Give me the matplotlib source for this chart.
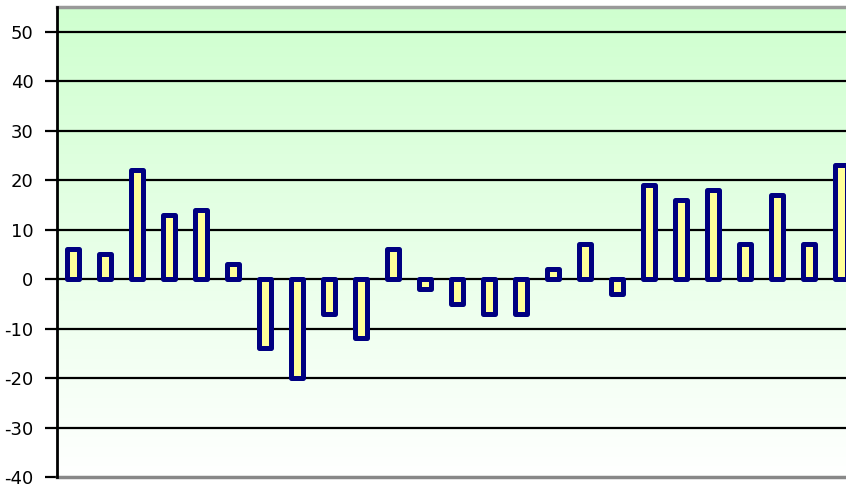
# MODULE IMPORTS
import numpy as np
import matplotlib
matplotlib.use("Agg")
import matplotlib.pyplot as plt
from matplotlib.colors import LinearSegmentedColormap

########
# DATA #
########
categories = list(range(1, 26))
values = [6, 5, 22, 13, 14, 3, -14, -20, -7, -12, 6, -2, -5, -7, -7,
          2, 7, -3, 19, 16, 18, 7, 17, 7, 23]
y_ticks = [-40, -30, -20, -10, 0, 10, 20, 30, 40, 50]

##########
# FIGURE #
##########
fig = plt.figure(figsize=(8.46, 4.91), dpi=100)
# axes runs a little past the right edge of the picture, like the original
ax = fig.add_axes([57 / 846, 14 / 491, 800 / 846, 470 / 491])

# GREEN TO WHITE GRADIENT BACKGROUND
grad = np.linspace(0, 1, 256).reshape(-1, 1)
cmap = LinearSegmentedColormap.from_list("bg", ["#ffffff", "#cfffcf"])
ax.imshow(grad, extent=[0, 1, 0, 1], transform=ax.transAxes, origin="lower",
          aspect="auto", cmap=cmap, zorder=0)

# GRIDLINES
for t in y_ticks[1:]:
    ax.axhline(t, color="black", lw=1.6, zorder=1)

# BARS
x = np.arange(len(categories))
ax.bar(x, values, width=0.38, color="#ffff99", edgecolor="#000080",
       linewidth=3.6, joinstyle="round", zorder=2)

# AXES
ax.set_xlim(-0.5, len(categories) - 0.5)
ax.set_ylim(-40, 55)
ax.set_yticks(y_ticks)
ax.set_yticklabels([str(t) for t in y_ticks], fontsize=13)
ax.set_xticks([])
ax.tick_params(axis="y", length=9, width=1.6, pad=8, color="black")

ax.spines["left"].set_color("black")
ax.spines["left"].set_linewidth(2)
ax.spines["left"].set_zorder(3)
ax.spines["top"].set_color("#999999")
ax.spines["top"].set_linewidth(2.5)
ax.spines["bottom"].set_color("#888888")
ax.spines["bottom"].set_linewidth(2.5)
ax.spines["right"].set_visible(False)

fig.savefig("out.png", dpi=100)
